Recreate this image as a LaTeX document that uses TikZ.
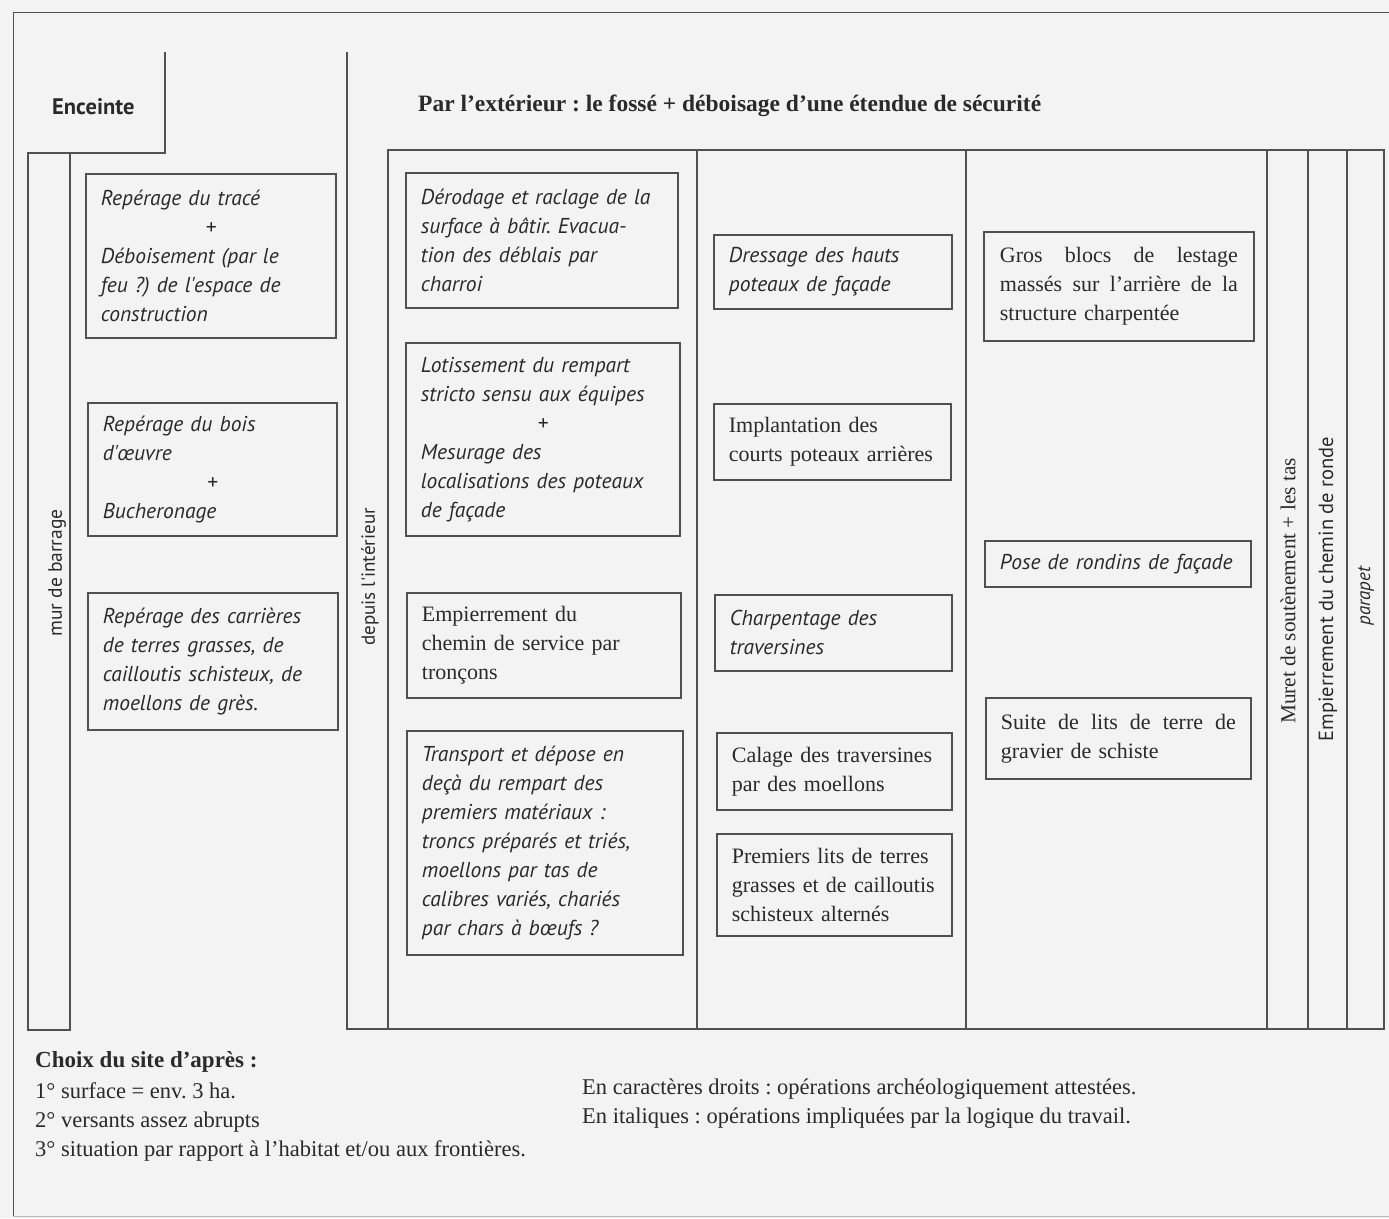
\documentclass[tikz,border=0pt]{standalone}
\usepackage{fontspec}
\setmainfont{Liberation Serif}
\newfontfamily\ptsans{PT Sans}
\definecolor{lc}{HTML}{505050}
\definecolor{bg}{HTML}{F3F3F3}
\definecolor{tx}{HTML}{2A2A2A}
\tikzset{
  frame/.style={draw=lc, line width=1.3pt},
  opbox/.style={draw=lc, line width=1.8pt, anchor=north west, inner xsep=15pt, inner ysep=0pt, align=left, text=tx},
  itbox/.style={opbox, font=\frenchspacing\ptsans\itshape\fontsize{21.5}{29}\selectfont},
  upbox/.style={opbox, font=\frenchspacing\fontsize{22}{29}\selectfont},
  vlab/.style={rotate=90, text=tx, inner sep=0pt},
  plain/.style={anchor=west, text=tx, inner sep=0pt, align=left}
}
\newcommand{\pluscentre}{\makebox[\hsize]{+}}
\newcommand{\spreadline}[1]{\leavevmode\hbox to \hsize{#1}}
\begin{document}
\begin{tikzpicture}[x=1pt, y=-1pt]
\useasboundingbox (0,0) rectangle (1389,1218);
\fill[bg] (0,0) rectangle (1389,1218);
% outer frame
\draw[frame, line width=1pt] (13,1216) -- (13,12) -- (1389,12);
\draw[frame, line width=0.6pt, draw=lc!40] (13,1216) -- (1389,1216);
% Enceinte column
\draw[frame] (165,52) -- (165,153) -- (28,153) -- (28,1030) -- (70,1030) -- (70,153);
% main table
\draw[frame] (347,52) -- (347,1029) -- (1384,1029) -- (1384,150) -- (388,150) -- (388,1029);
\foreach \xx in {697,966,1267,1308,1347} \draw[frame] (\xx,150) -- (\xx,1029);

% headings
\node[plain, font=\ptsans\bfseries\fontsize{22.5}{24}\selectfont] (enc) at (52,107) {Enceinte};
\node[plain, font=\frenchspacing\bfseries\fontsize{23.5}{24}\selectfont] (ext) at (418,106) {Par l'extérieur : le fossé + déboisage d'une étendue de sécurité};

% vertical labels
\node[vlab, font=\ptsans\fontsize{19.5}{24}\selectfont] (mur) at (57,573) {mur de barrage};
\node[vlab, font=\ptsans\fontsize{19}{24}\selectfont] (dep) at (370,577) {depuis l'intérieur};
\node[vlab, font=\fontsize{21.3}{24}\selectfont] (muret) at (1288,591) {Muret de soutènement + les tas};
\node[vlab, font=\ptsans\fontsize{20.5}{24}\selectfont] (empc) at (1328,589) {Empierrement du chemin de ronde};
\node[vlab, font=\ptsans\itshape\fontsize{19}{24}\selectfont] (par) at (1366,596) {parapet};

% column 1
\node[itbox, minimum width=250pt, minimum height=164pt, text width=220pt] (b1) at (85,173)
 {Repérage du tracé\\\pluscentre\\Déboisement (par le\\feu ?) de l'espace de\\construction};
\node[itbox, minimum width=249pt, minimum height=133pt, text width=219pt] (b2) at (87,402)
 {Repérage du bois\\d'œuvre\\\pluscentre\\Bucheronage};
\node[itbox, minimum width=250pt, minimum height=137pt, text width=220pt] (b3) at (87,592)
 {Repérage des carrières\\de terres grasses, de\\cailloutis schisteux, de\\moellons de grès.};

% column depuis
\node[itbox, minimum width=272pt, minimum height=135pt, text width=242pt] (c1) at (405,172)
 {Dérodage et raclage de la\\surface à bâtir. Evacua-\\tion des déblais par\\charroi};
\node[itbox, minimum width=274pt, minimum height=193pt, text width=244pt] (c2) at (405,342)
 {Lotissement du rempart\\stricto sensu aux équipes\\\pluscentre\\Mesurage des\\localisations des poteaux\\de façade};
\node[upbox, minimum width=274pt, minimum height=105pt, text width=244pt] (c3) at (406,592)
 {Empierrement du\\chemin de service par\\tronçons};
\node[itbox, minimum width=276pt, minimum height=224pt, text width=246pt] (c4) at (406,730)
 {Transport et dépose en\\deçà du rempart des\\premiers matériaux :\\troncs préparés et triés,\\moellons par tas de\\calibres variés, chariés\\par chars à bœufs ?};

% column 2
\node[itbox, minimum width=238pt, minimum height=74pt, text width=208pt] (d1) at (713,234)
 {Dressage des hauts\\poteaux de façade};
\node[upbox, minimum width=237pt, minimum height=76pt, text width=207pt] (d2) at (713,403)
 {Implantation des\\courts poteaux arrières};
\node[itbox, minimum width=237pt, minimum height=76pt, text width=207pt] (d3) at (714,594)
 {Charpentage des\\traversines};
\node[upbox, minimum width=235pt, minimum height=77pt, text width=205pt] (d4) at (716,732)
 {Calage des traversines\\par des moellons};
\node[upbox, minimum width=235pt, minimum height=102pt, text width=205pt] (d5) at (716,833)
 {Premiers lits de terres\\grasses et de cailloutis\\schisteux alternés};

% column 3
\node[upbox, minimum width=270pt, minimum height=109pt, text width=238pt] (e1) at (983,231)
 {\spreadline{Gros\hfill blocs\hfill de\hfill lestage}\\\spreadline{massés\hfill sur\hfill l'arrière\hfill de\hfill la}\\structure charpentée};
\node[itbox, minimum width=266pt, minimum height=46pt, text width=236pt] (e2) at (984,540)
 {Pose de rondins de façade};
\node[upbox, minimum width=265pt, minimum height=81pt, text width=235pt] (e3) at (985,697)
 {\spreadline{Suite\hfill de\hfill lits\hfill de\hfill terre\hfill de}\\gravier de schiste};

% bottom notes
\node[plain, font=\frenchspacing\bfseries\fontsize{23}{24}\selectfont] (choix) at (35,1062) {Choix du site d'après :};
\node[plain, anchor=north west, font=\frenchspacing\fontsize{22.5}{29}\selectfont] (crit) at (35,1082)
 {1\textdegree{} surface = env. 3 ha.\\2\textdegree{} versants assez abrupts\\3\textdegree{} situation par rapport à l'habitat et/ou aux frontières.};
\node[plain, anchor=north west, font=\frenchspacing\fontsize{22.5}{29}\selectfont] (leg) at (582,1079)
 {En caractères droits : opérations archéologiquement attestées.\\En italiques : opérations impliquées par la logique du travail.};
\end{tikzpicture}
\end{document}
